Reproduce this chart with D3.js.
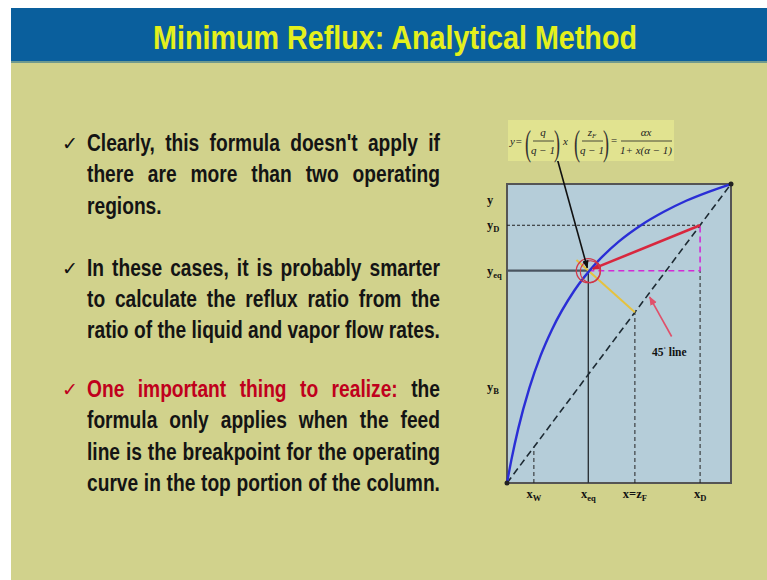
<!DOCTYPE html>
<html><head><meta charset="utf-8">
<script src="https://cdn.jsdelivr.net/npm/d3@7"></script>
<style>html,body{margin:0;padding:0;background:#fff;overflow:hidden} svg{display:block}</style>
</head><body><svg id="c" width="767" height="580"></svg>
<script>
// ---------- data ----------
const title = "Minimum Reflux: Analytical Method";
const para1 = ["Clearly, this formula doesn't apply if", "there are more than two operating", "regions."];
const para2 = ["In these cases, it is probably smarter", "to calculate the reflux ratio from the", "ratio of the liquid and vapor flow rates."];
const para3 = ["One important thing to realize: the", "formula only applies when the feed", "line is the breakpoint for the operating", "curve in the top portion of the column."];
const redWords = 5; // first words of para3 in red

// equilibrium curve
const eqX = [0, 0.02, 0.05, 0.10, 0.15, 0.20, 0.30, 0.40, 0.50, 0.60, 0.70, 0.80, 0.90, 1.00];
const eqY = [0, 0.079, 0.181, 0.318, 0.426, 0.512, 0.643, 0.737, 0.808, 0.863, 0.907, 0.944, 0.974, 1.00];

// key compositions
const xNames = ["W", "eq", "zF", "D"];
const xVals = [0.12, 0.363, 0.571, 0.862];
const yEq = 0.71;
const yD = 0.862;
const qLineEndX = 0.31;
const yLabelNames = ["", "D", "eq", "B"];
const yLabelVals = [0.946, 0.862, 0.71, 0.321];
const arrow45 = [0.735, 0.49, 0.632, 0.632]; // label-end x,y -> diagonal x,y

// ---------- drawing ----------
const svg = d3.select("#c");
const W = 767, H = 580;
svg.append("rect").attr("width", W).attr("height", H).attr("fill", "#fff");
svg.append("rect").attr("x", 11).attr("y", 8).attr("width", W - 11).attr("height", H - 8).attr("fill", "#d1d28c");
svg.append("rect").attr("x", 11).attr("y", 8).attr("width", W - 11).attr("height", 54).attr("fill", "#0a5f9d");
svg.append("rect").attr("x", 11).attr("y", 61).attr("width", W - 11).attr("height", 2).attr("fill", "#6f9a8e");

const narrow = "'Liberation Sans Narrow','Arial Narrow','Liberation Sans',Arial,sans-serif";
svg.append("text").attr("x", 395).attr("y", 49).attr("text-anchor", "middle")
  .attr("font-family", narrow).attr("font-weight", "bold").attr("font-size", 34)
  .attr("fill", "#e4f01c").attr("textLength", 484).attr("lengthAdjust", "spacingAndGlyphs")
  .text(title);

// ---- bullet text, justified ----
const fs = 23.5, left = 87, right = 440;
const tmp = svg.append("text").attr("font-family", narrow).attr("font-weight", "bold").attr("font-size", fs);
function measure(s) { tmp.text(s); return tmp.node().getComputedTextLength(); }
const allLines = para1.concat(para2, para3);
const maxNat = d3.max(allLines, measure);
const sx = Math.min(1, (right - left) / (maxNat * 1.0));
tmp.remove();

function measure2() { const t = svg.append("text").attr("font-family", narrow).attr("font-weight", "bold").attr("font-size", fs).attr("xml:space", "preserve").text("a a"); const a = t.node().getComputedTextLength(); t.text("aa"); const b = t.node().getComputedTextLength(); t.remove(); return a - b; }

function drawPara(lines, baselines, redCount, checkRed) {
  let wordIdx = 0;
  svg.append("text").attr("x", 62).attr("y", baselines[0] - 1)
    .attr("font-family", "'DejaVu Sans',sans-serif").attr("font-size", 19)
    .attr("fill", checkRed ? "#c0001c" : "#111").text("\u2713");
  lines.forEach((ln, li) => {
    const words = ln.split(" ");
    const ws = words.map(w => { const t = svg.append("text").attr("font-family", narrow).attr("font-weight", "bold").attr("font-size", fs).text(w); const v = t.node().getComputedTextLength(); t.remove(); return v * sx; });
    const total = d3.sum(ws);
    const justify = words.length > 1 && ln !== "regions.";
    const spaceNat = measure2() * sx;
    const gap = justify ? (right - left - total) / (words.length - 1) : spaceNat;
    let x = left;
    words.forEach((w, i) => {
      const red = wordIdx < redCount;
      svg.append("text").attr("transform", `translate(${x},${baselines[li]}) scale(${sx},1)`)
        .attr("font-family", narrow).attr("font-weight", "bold").attr("font-size", fs)
        .attr("fill", red ? "#c0001c" : "#141414").text(w);
      x += ws[i] + gap;
      wordIdx++;
    });
  });
}

drawPara(para1, [151, 182, 214], 0, false);
drawPara(para2, [276, 307, 338], 0, false);
drawPara(para3, [397, 428, 460, 491], redWords, true);

// ---- chart ----
const x = d3.scaleLinear([0, 1], [507, 731]);
const y = d3.scaleLinear([0, 1], [483, 184]);

const defs = svg.append("defs");
function marker(id, color, size) {
  defs.append("marker").attr("id", id).attr("viewBox", "0 0 10 10").attr("refX", 9).attr("refY", 5)
    .attr("markerWidth", size).attr("markerHeight", size).attr("orient", "auto-start-reverse")
    .attr("markerUnits", "userSpaceOnUse")
    .append("path").attr("d", "M0,1 L10,5 L0,9 z").attr("fill", color);
}
marker("mRed", "#d0203a", 9);
marker("mBlk", "#111", 8);
marker("mPink", "#e0506a", 9);

svg.append("rect").attr("x", x(0)).attr("y", y(1)).attr("width", x(1) - x(0)).attr("height", y(0) - y(1))
  .attr("fill", "#b5cdd9").attr("stroke", "#555").attr("stroke-width", 2);

const g = svg.append("g");
const line = d3.line().x(d => x(d[0])).y(d => y(d[1]));

// thin dashed guides
const dash = "4,3";
g.append("path").attr("d", line([[0, yD], [xVals[3], yD]])).attr("stroke", "#222").attr("stroke-width", 1).attr("stroke-dasharray", "3,2").attr("fill", "none");
g.append("path").attr("d", line([[xVals[0], 0], [xVals[0], xVals[0]]])).attr("stroke", "#222").attr("stroke-width", 1).attr("stroke-dasharray", dash).attr("fill", "none");
g.append("path").attr("d", line([[xVals[2], 0], [xVals[2], xVals[2]]])).attr("stroke", "#222").attr("stroke-width", 1).attr("stroke-dasharray", dash).attr("fill", "none");
g.append("path").attr("d", line([[xVals[3], 0], [xVals[3], yEq]])).attr("stroke", "#222").attr("stroke-width", 1).attr("stroke-dasharray", dash).attr("fill", "none");
// magenta
g.append("path").attr("d", line([[xVals[1], yEq], [xVals[3], yEq], [xVals[3], yD]])).attr("stroke", "#d22ad6").attr("stroke-width", 1.6).attr("stroke-dasharray", "6,4").attr("fill", "none");
// solid eq guides
g.append("path").attr("d", line([[0, yEq], [xVals[1], yEq]])).attr("stroke", "#4a5560").attr("stroke-width", 2.2).attr("fill", "none");
g.append("path").attr("d", line([[xVals[1], 0], [xVals[1], yEq]])).attr("stroke", "#2c3338").attr("stroke-width", 1.4).attr("fill", "none");
// diagonal
g.append("path").attr("d", line([[0, 0], [1, 1]])).attr("stroke", "#1d2a33").attr("stroke-width", 1.6).attr("stroke-dasharray", "7,4").attr("fill", "none");
// q-line
const slope = (yEq - xVals[2]) / (xVals[1] - xVals[2]);
g.append("path").attr("d", line([[xVals[2], xVals[2]], [qLineEndX, yEq + slope * (qLineEndX - xVals[1])]]))
  .attr("stroke", "#e6c23e").attr("stroke-width", 2).attr("fill", "none");
// equilibrium curve
g.append("path").attr("d", d3.line().x(d => x(d[0])).y(d => y(d[1])).curve(d3.curveMonotoneX)(eqX.map((v, i) => [v, eqY[i]])))
  .attr("stroke", "#2a2ed6").attr("stroke-width", 2.4).attr("fill", "none");
g.append("circle").attr("cx", x(0)).attr("cy", y(0)).attr("r", 2.5).attr("fill", "#222");
g.append("circle").attr("cx", x(1)).attr("cy", y(1)).attr("r", 2.5).attr("fill", "#222");
// operating line (red)
g.append("path").attr("d", line([[xVals[3], yD], [xVals[1] + 0.02, yEq + 0.006]]))
  .attr("stroke", "#d8273e").attr("stroke-width", 2.6).attr("fill", "none").attr("marker-end", "url(#mRed)");
// red circle
g.append("ellipse").attr("cx", x(xVals[1])).attr("cy", y(yEq)).attr("rx", 12).attr("ry", 12).attr("fill", "none").attr("stroke", "#d03848").attr("stroke-width", 1.3);
g.append("ellipse").attr("cx", x(xVals[1]) + 2).attr("cy", y(yEq) + 1).attr("rx", 10).attr("ry", 11).attr("fill", "none").attr("stroke", "#d03848").attr("stroke-width", 1.1);
// black pointer from formula
g.append("path").attr("d", `M557,158 L${x(xVals[1]) - 1},${y(yEq) - 3}`).attr("stroke", "#111").attr("stroke-width", 1.6).attr("fill", "none").attr("marker-end", "url(#mBlk)");
// 45 line pointer
g.append("path").attr("d", line([[arrow45[0], arrow45[1]], [arrow45[2] + 0.005, arrow45[3] - 0.01]]))
  .attr("stroke", "#e0506a").attr("stroke-width", 1.6).attr("fill", "none").attr("marker-end", "url(#mPink)");
const lab = svg.append("text").attr("x", 652).attr("y", 356).attr("font-family", "'Liberation Serif',serif").attr("font-weight", "bold").attr("font-size", 11.5).attr("fill", "#111");
lab.append("tspan").text("45");
lab.append("tspan").attr("dy", -4).attr("font-size", 7).text("\u02da");
lab.append("tspan").attr("dy", 4).text(" line");

// axis labels
const serif = "'Liberation Serif','Times New Roman',serif";
yLabelNames.forEach((n, i) => {
  const t = svg.append("text").attr("x", 487).attr("y", y(yLabelVals[i]) + 4).attr("font-family", serif).attr("font-weight", "bold").attr("font-size", 12.5).attr("fill", "#111");
  t.append("tspan").text("y");
  if (n) t.append("tspan").attr("dy", 3).attr("font-size", 8.5).text(n);
});
xNames.forEach((n, i) => {
  const t = svg.append("text").attr("x", x(xVals[i])).attr("y", 498).attr("text-anchor", "middle").attr("font-family", serif).attr("font-weight", "bold").attr("font-size", 12.5).attr("fill", "#111");
  if (n === "zF") { t.append("tspan").text("x=z"); t.append("tspan").attr("dy", 3).attr("font-size", 8.5).text("F"); }
  else { t.append("tspan").text("x"); t.append("tspan").attr("dy", 3).attr("font-size", 8.5).text(n); }
});

// ---- formula box ----
const fb = svg.append("g");
fb.append("rect").attr("x", 508).attr("y", 120).attr("width", 166).attr("height", 41).attr("fill", "#e1e390");
const fi = (tx, ty, s, sz, anchor) => fb.append("text").attr("x", tx).attr("y", ty).attr("font-family", serif).attr("font-style", "italic").attr("font-size", sz || 11).attr("fill", "#222").attr("text-anchor", anchor || "middle").text(s);
const bar = (x1, x2) => fb.append("line").attr("x1", x1).attr("x2", x2).attr("y1", 141).attr("y2", 141).attr("stroke", "#222").attr("stroke-width", 0.8);
const paren = (px, s) => fb.append("text").attr("x", px).attr("y", 155).attr("font-family", serif).attr("font-size", 36).attr("fill", "#333").attr("transform", `translate(${px},0) scale(0.5,1) translate(${-px},0)`).text(s);
fi(510, 145, "y=", 11, "start");
paren(525, "(");
fi(543, 136, "q"); bar(533, 554); fi(543, 154, "q \u2212 1");
paren(554, ")");
fi(563, 145, "x", 11, "start");
paren(574, "(");
const zt = fi(592, 136, "z"); zt.append("tspan").attr("dy", 2).attr("font-size", 7).text("F");
bar(582, 603); fi(592, 154, "q \u2212 1");
paren(603, ")");
fi(614, 144, "=", 11);
fi(646, 136, "\u03b1x"); bar(621, 672); fi(646, 154, "1+ x(\u03b1 \u2212 1)");
</script></body></html>
